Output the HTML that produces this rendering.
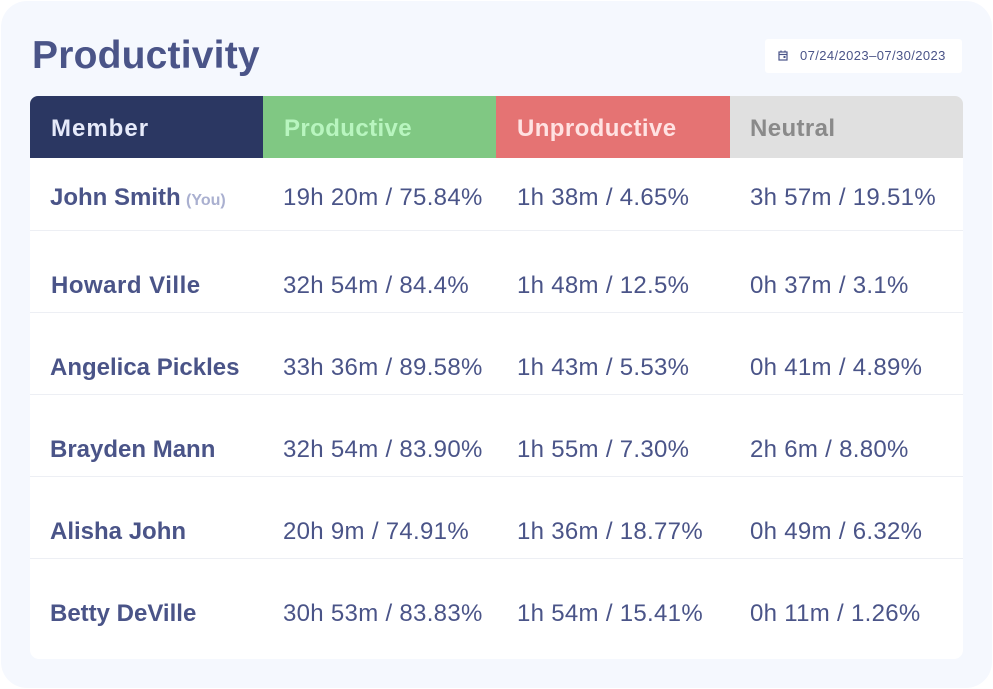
<!DOCTYPE html>
<html><head><meta charset="utf-8"><style>
html,body{margin:0;padding:0;width:993px;height:689px;background:#fff;overflow:hidden;}
body{font-family:"Liberation Sans",sans-serif;position:relative;}
.card{position:absolute;left:1px;top:1px;width:991px;height:687px;background:#f5f8fe;border-radius:26px;}
.t{position:absolute;white-space:nowrap;line-height:1;}
.title{left:32px;top:36px;font-size:39px;font-weight:bold;color:#4a5488;letter-spacing:0.2px;}
.date{position:absolute;left:765px;top:39px;width:197px;height:34px;background:#fff;border-radius:3px;}
.datetxt{left:800px;top:49px;font-size:13px;color:#4a5488;letter-spacing:0.4px;}
.hdr{position:absolute;top:96px;height:62px;}
.body{position:absolute;left:30px;top:158px;width:933px;height:501px;background:#fff;border-radius:0 0 9px 9px;}
.line{position:absolute;left:30px;width:933px;height:1px;background:#edeff4;}
.h{font-size:24px;font-weight:bold;letter-spacing:0.4px;top:117px;}
.n{font-size:24px;font-weight:bold;color:#4a5488;}
.v{font-size:24px;color:#4a5488;letter-spacing:0.3px;}
.you{font-size:16px;font-weight:bold;color:#aab0d0;}
</style></head><body>
<div class="card"></div>
<div class="t title">Productivity</div>
<div class="date"></div>
<svg style="position:absolute;left:778px;top:50px" width="10" height="11" viewBox="0 0 10 11"><rect x="1" y="2" width="8" height="8" fill="none" stroke="#4a5488" stroke-width="1.2"/><line x1="1" y1="4.5" x2="9" y2="4.5" stroke="#4a5488" stroke-width="1.2"/><line x1="3" y1="0.5" x2="3" y2="2.5" stroke="#4a5488" stroke-width="1.2"/><line x1="7" y1="0.5" x2="7" y2="2.5" stroke="#4a5488" stroke-width="1.2"/><rect x="5.5" y="6" width="2" height="2" fill="#4a5488"/></svg>
<div class="t datetxt">07/24/2023–07/30/2023</div>

<div class="hdr" style="left:30px;width:233px;background:#2b3762;border-radius:8px 0 0 0;"></div>
<div class="hdr" style="left:263px;width:233px;background:#80c883;"></div>
<div class="hdr" style="left:496px;width:234px;background:#e57373;"></div>
<div class="hdr" style="left:730px;width:233px;background:#e0e0e0;border-radius:0 8px 0 0;"></div>
<div class="t h" style="left:51px;color:#e6eafa;letter-spacing:1px;">Member</div>
<div class="t h" style="left:284px;color:#b8f5bf;">Productive</div>
<div class="t h" style="left:517px;color:#ffe2e2;">Unproductive</div>
<div class="t h" style="left:750px;color:#8a8a8a;">Neutral</div>

<div class="body"></div>
<div class="line" style="top:230px"></div>
<div class="line" style="top:312px"></div>
<div class="line" style="top:394px"></div>
<div class="line" style="top:476px"></div>
<div class="line" style="top:558px"></div>

<div class="t n" style="left:50px;top:186px;">John Smith</div>
<div class="t you" style="left:186px;top:193px;">(You)</div>
<div class="t v" style="left:283px;top:186px;">19h 20m / 75.84%</div>
<div class="t v" style="left:517px;top:186px;">1h 38m / 4.65%</div>
<div class="t v" style="left:750px;top:186px;">3h 57m / 19.51%</div>

<div class="t n" style="left:51px;top:274px;letter-spacing:0.5px;">Howard Ville</div>
<div class="t v" style="left:283px;top:274px;">32h 54m / 84.4%</div>
<div class="t v" style="left:517px;top:274px;">1h 48m / 12.5%</div>
<div class="t v" style="left:750px;top:274px;">0h 37m / 3.1%</div>

<div class="t n" style="left:50px;top:356px;">Angelica Pickles</div>
<div class="t v" style="left:283px;top:356px;">33h 36m / 89.58%</div>
<div class="t v" style="left:517px;top:356px;">1h 43m / 5.53%</div>
<div class="t v" style="left:750px;top:356px;">0h 41m / 4.89%</div>

<div class="t n" style="left:50px;top:438px;">Brayden Mann</div>
<div class="t v" style="left:283px;top:438px;">32h 54m / 83.90%</div>
<div class="t v" style="left:517px;top:438px;">1h 55m / 7.30%</div>
<div class="t v" style="left:750px;top:438px;">2h 6m / 8.80%</div>

<div class="t n" style="left:50px;top:520px;">Alisha John</div>
<div class="t v" style="left:283px;top:520px;">20h 9m / 74.91%</div>
<div class="t v" style="left:517px;top:520px;">1h 36m / 18.77%</div>
<div class="t v" style="left:750px;top:520px;">0h 49m / 6.32%</div>

<div class="t n" style="left:50px;top:602px;">Betty DeVille</div>
<div class="t v" style="left:283px;top:602px;">30h 53m / 83.83%</div>
<div class="t v" style="left:517px;top:602px;">1h 54m / 15.41%</div>
<div class="t v" style="left:750px;top:602px;">0h 11m / 1.26%</div>
</body></html>
